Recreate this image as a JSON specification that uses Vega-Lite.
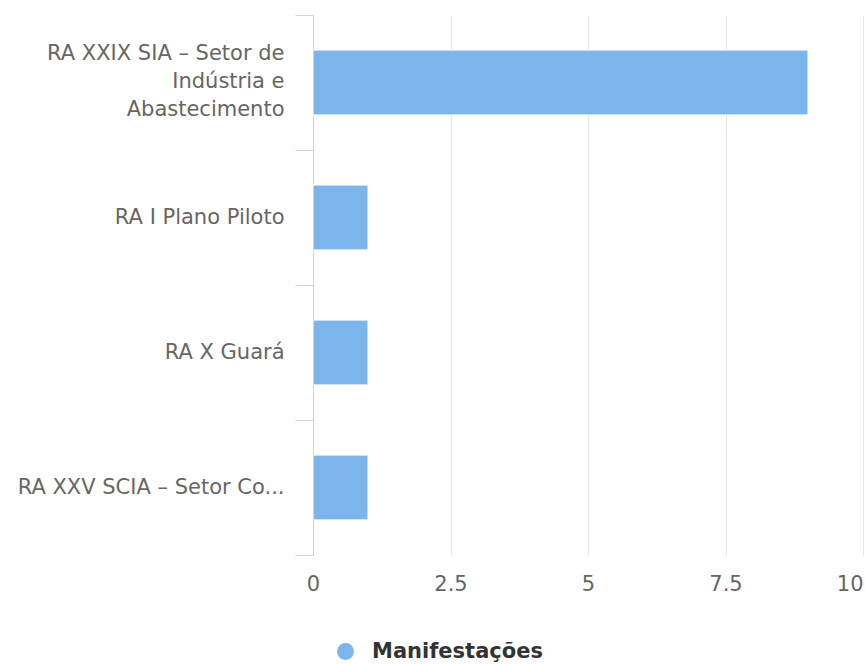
{
  "$schema": "https://vega.github.io/schema/vega-lite/v6.json",
  "autosize": {"type": "none"},
  "width": 550,
  "height": 540,
  "padding": {"left": 313, "top": 15, "right": 2, "bottom": 109},
  "background": "#ffffff",
  "config": {
    "view": {"stroke": null},
    "font": "DejaVu Sans"
  },
  "data": {
    "values": [
      {"regiao": "RA XXIX SIA – Setor de Indústria e Abastecimento", "manifestacoes": 9, "serie": "Manifestações"},
      {"regiao": "RA I Plano Piloto", "manifestacoes": 1, "serie": "Manifestações"},
      {"regiao": "RA X Guará", "manifestacoes": 1, "serie": "Manifestações"},
      {"regiao": "RA XXV SCIA – Setor Co...", "manifestacoes": 1, "serie": "Manifestações"}
    ]
  },
  "mark": {"type": "bar", "stroke": "#ffffff", "strokeWidth": 1, "height": {"band": 0.48}},
  "encoding": {
    "y": {
      "field": "regiao",
      "type": "nominal",
      "sort": null,
      "scale": {"paddingInner": 0, "paddingOuter": 0},
      "axis": {
        "title": null,
        "grid": false,
        "tickBand": "extent",
        "domainColor": "#ccd6eb",
        "tickColor": "#ccd6eb",
        "tickSize": 18,
        "labelPadding": 11,
        "labelFont": "DejaVu Sans",
        "labelFontSize": 21,
        "labelColor": "#666666",
        "labelLineHeight": 28,
        "labelLimit": 320,
        "labelOffset": {"condition": {"test": "datum.value == 'RA XXIX SIA – Setor de Indústria e Abastecimento'", "value": -29}, "value": 0},
        "labelExpr": "datum.label == 'RA XXIX SIA – Setor de Indústria e Abastecimento' ? ['RA XXIX SIA – Setor de', 'Indústria e', 'Abastecimento'] : datum.label"
      }
    },
    "x": {
      "field": "manifestacoes",
      "type": "quantitative",
      "scale": {"domain": [0, 10], "nice": false},
      "axis": {
        "title": null,
        "values": [0, 2.5, 5, 7.5, 10],
        "format": ".1~f",
        "domain": false,
        "ticks": false,
        "grid": true,
        "gridColor": "#e6e6e6",
        "gridWidth": 1,
        "labelPadding": 18,
        "labelFont": "DejaVu Sans",
        "labelFontSize": 21,
        "labelColor": "#666666",
        "labelFlush": false,
        "labelAlign": {"condition": {"test": "datum.value == 10", "value": "right"}, "value": "center"}
      }
    },
    "color": {
      "field": "serie",
      "type": "nominal",
      "scale": {"range": ["#7cb5ec"]},
      "legend": {
        "title": null,
        "orient": "none",
        "legendX": 22,
        "legendY": 626,
        "symbolType": "circle",
        "symbolSize": 289,
        "symbolStrokeWidth": 0,
        "labelOffset": 16,
        "labelLimit": 400,
        "labelFont": "DejaVu Sans",
        "labelFontSize": 21,
        "labelFontWeight": "bold",
        "labelColor": "#333333"
      }
    }
  }
}
